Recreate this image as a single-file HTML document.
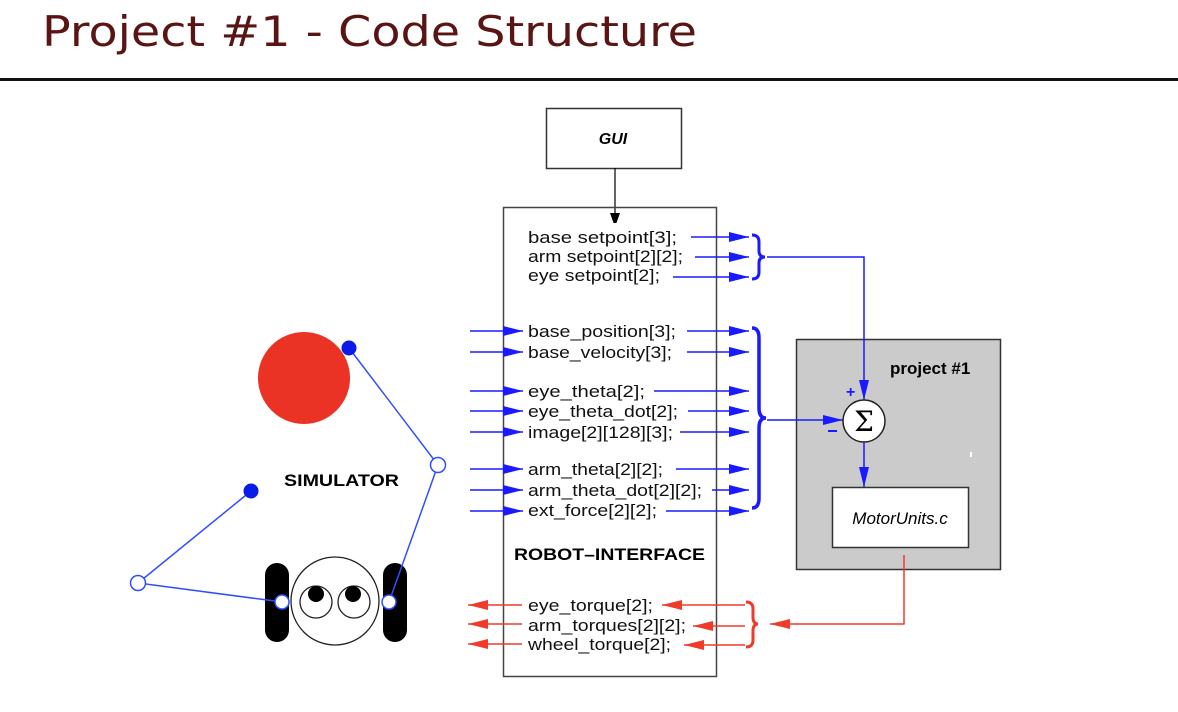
<!DOCTYPE html>
<html><head><meta charset="utf-8"><style>
html,body{margin:0;padding:0;background:#fff;width:1178px;height:712px;overflow:hidden}
svg{display:block}
text{font-family:"Liberation Sans",Arial,sans-serif}
</style></head><body>
<svg width="1178" height="712" viewBox="0 0 1178 712" xmlns="http://www.w3.org/2000/svg">
<defs>
<marker id="abb" markerWidth="20" markerHeight="10" refX="20" refY="5" orient="auto" markerUnits="userSpaceOnUse"><path d="M0,0 L20,5 L0,10 Z" fill="#1a1aff"/></marker>
<marker id="ar" markerWidth="20" markerHeight="10" refX="20" refY="5" orient="auto" markerUnits="userSpaceOnUse"><path d="M0,0 L20,5 L0,10 Z" fill="#f03a2a"/></marker>
<marker id="ak" markerWidth="10" markerHeight="14" refX="10" refY="5" orient="auto" markerUnits="userSpaceOnUse"><path d="M0,0 L14,5 L0,10 Z" fill="#000"/></marker>
</defs>

<text x="42" y="46" font-size="42" fill="#5a1414" textLength="655" lengthAdjust="spacingAndGlyphs" style="font-family:'DejaVu Sans',sans-serif">Project #1 - Code Structure</text>
<rect x="0" y="78" width="1178" height="3" fill="#111"/>

<!-- GUI -->
<rect x="546.5" y="108.5" width="135" height="60" fill="#fff" stroke="#333" stroke-width="1.5"/>
<text x="613" y="144" font-size="16" font-weight="bold" font-style="italic" text-anchor="middle">GUI</text>
<line x1="615" y1="168" x2="615" y2="223" stroke="#000" stroke-width="1.2" marker-end="url(#ak)"/>

<!-- robot interface -->
<rect x="503.5" y="207.5" width="213" height="469" fill="none" stroke="#444" stroke-width="1.5"/>
<g font-size="17" fill="#111">
<text x="528" y="243" textLength="149" lengthAdjust="spacingAndGlyphs">base  setpoint[3];</text>
<text x="528" y="262" textLength="155" lengthAdjust="spacingAndGlyphs">arm setpoint[2][2];</text>
<text x="528" y="281" textLength="132" lengthAdjust="spacingAndGlyphs">eye setpoint[2];</text>
<text x="528" y="337" textLength="148" lengthAdjust="spacingAndGlyphs">base_position[3];</text>
<text x="528" y="358" textLength="144" lengthAdjust="spacingAndGlyphs">base_velocity[3];</text>
<text x="528" y="397" textLength="117" lengthAdjust="spacingAndGlyphs">eye_theta[2];</text>
<text x="528" y="417" textLength="150" lengthAdjust="spacingAndGlyphs">eye_theta_dot[2];</text>
<text x="528" y="438" textLength="145" lengthAdjust="spacingAndGlyphs">image[2][128][3];</text>
<text x="528" y="475" textLength="135" lengthAdjust="spacingAndGlyphs">arm_theta[2][2];</text>
<text x="528" y="496" textLength="174" lengthAdjust="spacingAndGlyphs">arm_theta_dot[2][2];</text>
<text x="528" y="516" textLength="129" lengthAdjust="spacingAndGlyphs">ext_force[2][2];</text>
<text x="528" y="611" textLength="125" lengthAdjust="spacingAndGlyphs">eye_torque[2];</text>
<text x="528" y="631" textLength="158" lengthAdjust="spacingAndGlyphs">arm_torques[2][2];</text>
<text x="528" y="650" textLength="143" lengthAdjust="spacingAndGlyphs">wheel_torque[2];</text>
</g>
<text x="514" y="560" font-size="17" font-weight="bold" textLength="191" lengthAdjust="spacingAndGlyphs">ROBOT–INTERFACE</text>

<g stroke="#1a1aff" stroke-width="1.5" marker-end="url(#abb)">
<line x1="691" y1="237" x2="749" y2="237"/>
<line x1="695" y1="257" x2="749" y2="257"/>
<line x1="673" y1="277" x2="749" y2="277"/>
<line x1="687" y1="331" x2="749" y2="331"/>
<line x1="687" y1="352" x2="749" y2="352"/>
<line x1="654" y1="391" x2="749" y2="391"/>
<line x1="688" y1="411" x2="749" y2="411"/>
<line x1="680" y1="432" x2="749" y2="432"/>
<line x1="676" y1="469" x2="749" y2="469"/>
<line x1="712" y1="490" x2="749" y2="490"/>
<line x1="666" y1="511" x2="749" y2="511"/>
<line x1="470" y1="331" x2="523" y2="331"/>
<line x1="470" y1="352" x2="523" y2="352"/>
<line x1="470" y1="391" x2="523" y2="391"/>
<line x1="470" y1="411" x2="523" y2="411"/>
<line x1="470" y1="432" x2="523" y2="432"/>
<line x1="470" y1="469" x2="523" y2="469"/>
<line x1="470" y1="490" x2="523" y2="490"/>
<line x1="470" y1="511" x2="523" y2="511"/>
</g>
<!-- braces -->
<path d="M752,235 Q759,235 759,242 L759,251 Q759,257 765,257 Q759,257 759,263 L759,272 Q759,279 752,279" fill="none" stroke="#1a1aff" stroke-width="3"/>
<path d="M752,328 Q759,328 759,338 L759,408 Q759,418 766,418 Q759,418 759,428 L759,498 Q759,508 752,508" fill="none" stroke="#1a1aff" stroke-width="3.5"/>

<!-- project box -->
<rect x="796.5" y="339.5" width="204" height="230" fill="#cbcbcb" stroke="#333" stroke-width="1.5"/>
<polyline points="767,257 864,257 864,400" fill="none" stroke="#1a1aff" stroke-width="1.5" marker-end="url(#abb)"/>
<text x="890" y="374" font-size="17" font-weight="bold">project #1</text>
<line x1="767" y1="420" x2="843" y2="420" stroke="#1a1aff" stroke-width="1.5" marker-end="url(#abb)"/>
<circle cx="864" cy="421" r="21" fill="#fff" stroke="#222" stroke-width="1.5"/>
<text x="864" y="431" font-size="28" text-anchor="middle" style="font-family:'DejaVu Serif',serif">Σ</text>
<text x="846" y="397" font-size="16" font-weight="bold" fill="#1a1aff">+</text>
<rect x="828" y="430" width="9" height="2" fill="#1a1aff"/>
<line x1="864" y1="442" x2="864" y2="487" stroke="#1a1aff" stroke-width="1.5" marker-end="url(#abb)"/>
<rect x="832.5" y="487.5" width="136" height="60" fill="#fff" stroke="#333" stroke-width="1.5"/>
<text x="900" y="524" font-size="17" font-style="italic" text-anchor="middle">MotorUnits.c</text>
<rect x="970" y="452" width="2" height="5" fill="#fff"/>

<!-- red -->
<polyline points="904,555 904,624 770,624" fill="none" stroke="#f03a2a" stroke-width="1.5" marker-end="url(#ar)"/>
<path d="M746,602 Q753,602 753,609 L753,617 Q753,624 758,624 Q753,624 753,631 L753,640 Q753,647 746,647" fill="none" stroke="#f03a2a" stroke-width="3"/>
<g stroke="#f03a2a" stroke-width="1.5" marker-end="url(#ar)">
<line x1="745" y1="605" x2="662" y2="605"/>
<line x1="745" y1="626" x2="693" y2="626"/>
<line x1="745" y1="645" x2="684" y2="645"/>
<line x1="522" y1="605" x2="468" y2="605"/>
<line x1="522" y1="624" x2="468" y2="624"/>
<line x1="522" y1="644" x2="468" y2="644"/>
</g>

<!-- simulator -->
<circle cx="304" cy="378" r="46" fill="#ea3324"/>
<text x="284" y="486" font-size="17" font-weight="bold" textLength="115" lengthAdjust="spacingAndGlyphs">SIMULATOR</text>
<rect x="265" y="563" width="24" height="79" rx="12" fill="#000"/>
<rect x="383" y="563" width="24" height="79" rx="12" fill="#000"/>
<circle cx="335" cy="601" r="44" fill="#fff" stroke="#222" stroke-width="1.3"/>
<circle cx="316" cy="602" r="16" fill="#fff" stroke="#222" stroke-width="1.3"/>
<circle cx="354" cy="602" r="16" fill="#fff" stroke="#222" stroke-width="1.3"/>
<circle cx="316" cy="594" r="8" fill="#000"/>
<circle cx="353" cy="594" r="8" fill="#000"/>
<g stroke="#2f4fff" stroke-width="1.5" fill="none">
<polyline points="349,348 438,465 389,602"/>
<polyline points="251,491 138,583 282,602"/>
</g>
<circle cx="349" cy="348" r="7.5" fill="#0b1be8"/>
<circle cx="251" cy="491" r="7.5" fill="#0b1be8"/>
<circle cx="438" cy="465" r="7.5" fill="#fff" stroke="#2f4fff" stroke-width="1.5"/>
<circle cx="138" cy="583" r="7.5" fill="#fff" stroke="#2f4fff" stroke-width="1.5"/>
<circle cx="282" cy="602" r="7" fill="#fff" stroke="#2f4fff" stroke-width="1.5"/>
<circle cx="389" cy="602" r="7" fill="#fff" stroke="#2f4fff" stroke-width="1.5"/>
</svg>
</body></html>
